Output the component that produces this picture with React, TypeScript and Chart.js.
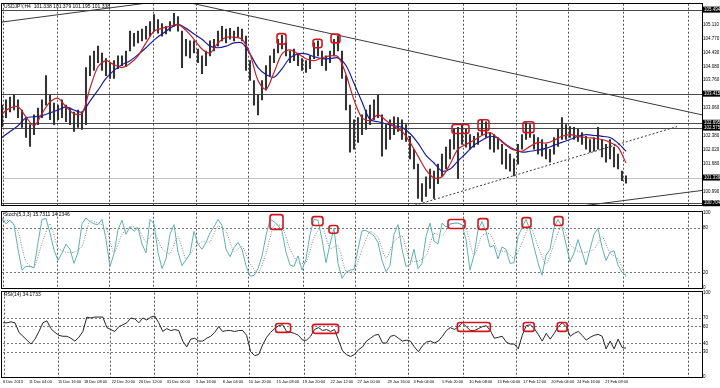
import React, { useEffect, useRef } from "react";
import { Chart, registerables } from "chart.js";
Chart.register(...registerables);

// ---------------- DATA ----------------
const HIGH = [
  103.13,103.26,103.33,103.38,103.26,103.01,102.82,102.65,102.89,103.06,
  103.26,103.86,103.38,103.18,103.13,103.26,103.13,103.06,102.96,103.01,
  102.96,104.06,104.35,104.47,104.59,104.42,104.28,104.18,104.23,104.35,
  104.35,104.47,104.96,104.91,104.96,105.01,105.08,105.20,105.37,105.25,
  105.15,105.08,105.20,105.40,105.32,104.96,104.76,104.72,104.72,104.52,
  104.35,104.47,104.72,104.76,104.96,105.08,105.01,105.03,104.96,105.06,
  105.01,104.84,104.23,103.74,103.38,103.74,104.11,104.35,104.52,104.76,
  104.86,104.67,104.47,104.52,104.42,104.28,104.23,104.35,104.67,104.72,
  104.47,104.35,104.47,104.76,104.84,104.47,103.86,103.13,102.77,102.82,
  102.89,103.01,103.13,103.26,103.38,102.89,102.65,102.77,102.84,102.82,
  102.77,102.65,102.36,102.04,101.67,101.19,101.36,101.55,101.50,101.67,
  101.92,102.09,102.28,102.53,102.58,102.65,102.53,102.40,102.36,102.45,
  102.77,102.72,102.45,102.40,102.33,102.16,102.04,101.92,101.80,102.16,
  102.40,102.70,102.65,102.40,102.33,102.28,102.16,102.04,102.33,102.53,
  102.82,102.65,102.60,102.58,102.53,102.45,102.36,102.28,102.33,102.58,
  102.28,102.16,102.28,102.09,101.92,101.50,101.38
];
const LOW = [
  102.60,102.82,102.96,103.01,102.82,102.58,102.33,102.11,102.40,102.65,
  102.82,103.13,102.77,102.65,102.77,102.82,102.72,102.65,102.48,102.58,
  102.53,102.65,103.86,103.99,104.18,103.99,103.86,103.79,103.79,104.03,
  104.11,104.08,104.47,104.59,104.67,104.72,104.76,104.84,104.96,104.91,
  104.84,104.89,104.96,105.08,104.96,104.06,104.35,104.30,104.42,104.18,
  103.91,104.11,104.35,104.47,104.59,104.72,104.67,104.76,104.72,104.81,
  104.72,103.99,103.74,103.13,102.89,103.26,103.50,103.86,104.18,104.42,
  104.52,104.35,104.18,104.23,104.11,103.99,103.94,104.03,104.28,104.35,
  104.11,103.99,104.18,104.35,104.47,103.79,103.01,101.97,102.04,102.21,
  102.40,102.53,102.65,102.77,102.82,101.87,102.04,102.28,102.40,102.48,
  102.28,102.23,101.80,101.55,100.82,100.75,100.87,101.07,100.82,101.19,
  101.36,101.55,101.80,102.04,101.31,102.16,102.09,102.04,102.09,102.16,
  102.40,102.33,102.04,101.97,102.04,101.67,101.55,101.50,101.38,101.67,
  102.04,102.28,102.33,102.04,101.92,101.87,101.80,101.72,101.92,102.11,
  102.28,102.28,102.33,102.28,102.23,102.16,102.04,101.97,101.99,102.04,
  101.85,101.72,101.80,101.60,101.55,101.26,101.20
];
// moving averages, one value every 2 bars
const MA_FAST = [
  102.92,103.06,103.09,102.84,102.62,102.92,103.21,103.30,103.09,102.92,
  102.92,103.55,104.08,104.23,104.13,104.06,104.16,104.35,104.67,104.96,
  105.03,105.08,105.13,104.98,104.76,104.52,104.42,104.67,104.81,104.81,
  104.76,104.40,103.74,103.52,103.94,104.40,104.50,104.40,104.28,104.23,
  104.30,104.35,104.33,103.89,103.26,102.82,102.75,102.89,102.75,102.60,
  102.48,102.21,101.87,101.53,101.33,101.36,101.67,102.04,102.16,102.26,
  102.38,102.45,102.31,102.14,102.02,101.99,102.11,102.21,102.19,102.26,
  102.36,102.40,102.36,102.33,102.31,102.28,102.21,102.09,101.70
];
const MA_SLOW = [
  102.33,102.48,102.62,102.82,102.84,102.87,102.94,103.01,103.09,103.01,
  102.96,103.23,103.50,103.79,103.99,104.13,104.23,104.38,104.55,104.74,
  104.89,105.03,105.13,105.03,104.89,104.76,104.59,104.55,104.59,104.67,
  104.67,104.40,104.06,103.89,103.82,104.03,104.30,104.40,104.40,104.33,
  104.28,104.28,104.30,104.11,103.67,103.21,102.77,102.72,102.67,102.62,
  102.58,102.43,102.19,101.89,101.70,101.50,101.55,101.75,101.94,102.14,
  102.26,102.36,102.31,102.16,102.04,101.97,101.99,102.02,102.06,102.14,
  102.21,102.28,102.36,102.40,102.38,102.36,102.33,102.19,101.99
];
const STOCH_MAIN = [
  93,85,90,84,51,23,28,28,26,60,
  91,92,73,50,36,46,58,51,32,47,
  85,93,88,85,84,91,64,28,45,77,
  90,71,81,75,80,58,46,91,85,47,
  25,38,71,84,47,29,37,45,75,58,
  51,60,73,81,91,83,51,41,53,60,
  51,29,15,16,25,42,69,91,88,83,
  75,47,30,28,42,23,38,71,91,90,
  64,33,58,79,32,12,20,23,24,51,
  76,76,73,69,60,36,21,29,71,84,
  51,28,30,51,25,32,68,86,62,58,
  86,81,85,86,86,84,64,23,43,77,
  88,75,54,56,38,54,51,32,33,68,
  80,91,77,54,33,16,43,51,80,91,
  81,58,34,46,64,47,30,51,71,79,
  54,36,47,49,30,20,15.7
];
// signal line, one value every 2 bars
const STOCH_SIGNAL = [
  90,89,75,34,27,59,85,53,47,47,
  55,89,86,80,46,71,81,79,61,74,
  52,45,68,38,52,61,61,82,75,48,
  55,32,19,45,83,82,51,33,33,67,
  82,52,56,21,22,50,75,67,39,61,
  69,36,35,42,72,69,84,86,78,43,
  69,72,49,48,39,60,83,55,31,58,
  84,58,48,47,51,68,46,38,14.2
];
const RSI = [
  64.3,64.3,65.4,64.3,52.9,48.3,43.7,39.1,44.9,54.0,
  64.3,66.6,57.4,52.9,49.4,48.3,48.3,46.0,42.6,47.1,
  54.0,71.1,70.0,71.1,71.1,71.1,58.6,56.3,54.0,59.7,
  62.0,64.3,70.0,68.9,64.3,70.0,67.7,71.1,72.3,64.3,
  54.0,57.4,55.1,56.3,55.1,42.6,35.7,44.9,46.0,42.6,
  42.6,46.0,48.3,52.9,59.7,54.0,55.1,55.1,54.0,55.1,
  55.1,49.4,30.0,25.4,26.6,38.0,47.1,52.9,57.4,60.9,
  62.0,54.0,52.9,51.7,49.4,43.7,43.7,48.3,56.3,58.6,
  55.1,56.3,54.0,56.3,43.7,31.1,26.6,24.3,26.6,32.3,
  35.7,42.6,46.0,49.4,50.6,40.3,40.3,48.3,49.4,46.0,
  42.6,43.7,42.6,35.7,30.0,36.9,41.4,42.6,40.3,42.6,
  48.3,55.1,58.6,56.3,59.7,64.3,59.7,55.1,55.1,57.4,
  59.7,60.9,55.1,46.0,47.1,48.3,41.4,39.1,39.1,33.4,
  49.4,60.9,62.0,57.4,50.6,42.6,51.7,44.9,51.7,59.7,
  64.3,59.7,48.3,51.7,54.0,49.4,43.7,47.1,49.4,50.6,
  48.3,33.4,42.6,33.4,44.9,35.0,34.2
];

const PRICE_TICKS = [105.11, 104.77, 104.43, 104.08, 103.76, 103.06, 102.38, 102.02, 101.68, 100.99];
const PRICE_LEVELS = [105.494, 103.415, 102.695, 102.575, 100.704];
const BID = 101.339;
const STOCH_TICKS = [100, 80, 20, 0];
const STOCH_LEVELS = [80, 20];
const RSI_TICKS = [100, 70, 60, 40, 30, 0];
const RSI_LEVELS = [70, 60, 40, 30];

const X_LABELS = [
  "6 Dec 2013", "11 Dec 04:00", "15 Dec 16:00", "18 Dec 08:00", "22 Dec 20:00", "26 Dec 12:00",
  "31 Dec 00:00", "3 Jan 16:00", "8 Jan 04:00", "10 Jan 20:00", "15 Jan 08:00", "19 Jan 20:00",
  "22 Jan 12:00", "27 Jan 00:00", "29 Jan 16:00", "3 Feb 04:00", "5 Feb 20:00", "10 Feb 08:00",
  "13 Feb 00:00", "17 Feb 12:00", "20 Feb 04:00", "24 Feb 16:00", "27 Feb 08:00"
];
const X_LABEL_POS = [0, 6.5, 13.75, 20.25, 27.25, 34, 41, 48.25, 55, 61.5, 68.5, 75, 82, 88.75, 96.25, 102.75, 110, 116.75, 123.75, 130.25, 137.25, 143.75, 150.75];
const WEEK_LINES = [0.25, 13.75, 26.75, 37.75, 48.5, 61.5, 75.25, 88.25, 101.5, 115.25, 128.5, 141.5, 155.25, 171.5];

// trend lines: [x0, price0, x1, price1, dashed]
const TREND_LINES: [number, number, number, number, boolean][] = [
  [-0.5, 105.18, 45, 105.77, false],
  [45.75, 105.689, 175, 102.89, false],
  [103.25, 100.652, 168.75, 102.6, true],
  [144.5, 100.63, 175, 101.02, false],
];
// highlight boxes: [x0, x1, v0, v1]
const PRICE_BOXES = [
  [68.75, 71, 104.9, 104.64], [77.75, 80, 104.76, 104.55], [82.25, 84.5, 104.89, 104.67],
  [112.5, 116.75, 102.65, 102.43], [119, 121.75, 102.77, 102.5], [130.25, 133, 102.72, 102.45],
];
const STOCH_BOXES = [
  [67, 70.25, 97.4, 77.6], [77.5, 80.25, 94.7, 82.9], [81.75, 84, 82.9, 72.4],
  [111.5, 115.75, 90.8, 78.9], [119, 121.5, 92.1, 77.6], [130, 132.25, 93.4, 80.3], [138, 140.25, 94.7, 82.9],
];
const RSI_BOXES = [
  [68.25, 72, 63.5, 52.9], [77.5, 84, 62.4, 51.8], [113.75, 122, 64.7, 54.1],
  [130.25, 133, 64.7, 54.1], [138.75, 141.25, 64.7, 54.1],
];

// ---------------- HELPERS ----------------
const FONT = "'Liberation Sans', Arial, sans-serif";
const X_MIN = 0;
const X_MAX = 175;
const AXIS_W = 18;

const px = (c: any, v: number) => c.scales.x.getPixelForValue(v);
const py = (c: any, v: number) => c.scales.y.getPixelForValue(v);

function hiddenX() {
  return { type: "linear", min: X_MIN, max: X_MAX, display: false, offset: false, bounds: "data" };
}

function rightAxis(min: number, max: number, ticks: number[], dec: number) {
  return {
    type: "linear",
    position: "right",
    min,
    max,
    bounds: "data",
    offset: false,
    beginAtZero: false,
    grid: { display: false, drawTicks: false },
    border: { display: false },
    ticks: {
      autoSkip: false,
      padding: 1,
      color: "#000",
      font: { size: 4.5, family: FONT },
      callback: (v: any) => Number(v).toFixed(dec),
    },
    afterBuildTicks: (s: any) => {
      s.ticks = ticks.map((v) => ({ value: v }));
    },
    afterFit: (s: any) => {
      s.width = AXIS_W;
    },
  };
}

function drawWeekGrid(c: any) {
  const { ctx, chartArea: a } = c;
  ctx.save();
  ctx.strokeStyle = "#555";
  ctx.lineWidth = 1;
  ctx.setLineDash([2, 2]);
  WEEK_LINES.forEach((w) => {
    const x = Math.round(px(c, w)) + 0.5;
    ctx.beginPath();
    ctx.moveTo(x, a.top);
    ctx.lineTo(x, a.bottom);
    ctx.stroke();
  });
  ctx.restore();
}

function drawLevels(c: any, levels: number[], dashed: boolean, color: string) {
  const { ctx, chartArea: a } = c;
  ctx.save();
  ctx.strokeStyle = color;
  ctx.lineWidth = 1;
  ctx.setLineDash(dashed ? [2, 2] : []);
  levels.forEach((v) => {
    const y = Math.round(py(c, v)) + 0.5;
    ctx.beginPath();
    ctx.moveTo(a.left, y);
    ctx.lineTo(a.right, y);
    ctx.stroke();
  });
  ctx.restore();
}

function drawBoxes(c: any, boxes: number[][]) {
  const { ctx } = c;
  ctx.save();
  ctx.strokeStyle = "#d3141c";
  ctx.lineWidth = 1.6;
  boxes.forEach(([x0, x1, v0, v1]) => {
    const l = px(c, x0);
    const r = px(c, x1);
    const t = Math.min(py(c, v0), py(c, v1));
    const b = Math.max(py(c, v0), py(c, v1));
    ctx.beginPath();
    (ctx as any).roundRect(l, t, r - l, b - t, 2.5);
    ctx.stroke();
  });
  ctx.restore();
}

function drawFrame(c: any, topGap: number) {
  const { ctx, chartArea: a } = c;
  ctx.save();
  ctx.strokeStyle = "#000";
  ctx.lineWidth = 1;
  ctx.strokeRect(1.5, Math.round(a.top - topGap) + 0.5, Math.round(a.right) - 1, Math.round(a.bottom - a.top + topGap));
  ctx.restore();
}

function drawTitle(c: any, text: string, y: number) {
  const { ctx } = c;
  ctx.save();
  ctx.fillStyle = "#000";
  ctx.font = `5px ${FONT}`;
  ctx.textBaseline = "top";
  ctx.fillText(text, 4, y);
  ctx.restore();
}

const common = {
  responsive: false,
  animation: false as const,
  events: [] as any[],
  plugins: { legend: { display: false }, tooltip: { enabled: false } },
};

function mainConfig(): any {
  const plugin = {
    id: "mainDecor",
    beforeDatasetsDraw(c: any) {
      drawWeekGrid(c);
      drawLevels(c, [BID], false, "#c4c4c4");
      drawLevels(c, PRICE_LEVELS, false, "#4a4a4a");
    },
    afterDatasetsDraw(c: any) {
      const { ctx, chartArea: a } = c;
      ctx.save();
      ctx.beginPath();
      ctx.rect(a.left, a.top, a.right - a.left, a.bottom - a.top);
      ctx.clip();
      ctx.strokeStyle = "#3a3a3a";
      ctx.lineWidth = 1;
      TREND_LINES.forEach(([x0, v0, x1, v1, d]) => {
        ctx.setLineDash(d ? [2, 2] : []);
        ctx.beginPath();
        ctx.moveTo(px(c, x0), py(c, v0));
        ctx.lineTo(px(c, x1), py(c, v1));
        ctx.stroke();
      });
      ctx.restore();
      drawBoxes(c, PRICE_BOXES);
    },
    afterDraw(c: any) {
      const { ctx } = c;
      drawFrame(c, 0.5);
      drawTitle(c, "USDJPY,H4  101.338 101.379 101.195 101.338", 4);
      ctx.save();
      ctx.font = `4.5px ${FONT}`;
      ctx.textBaseline = "middle";
      [...PRICE_LEVELS, BID].forEach((v) => {
        const y = py(c, v);
        ctx.fillStyle = "#000";
        ctx.fillRect(c.chartArea.right + 1, y - 3, AXIS_W - 1, 6);
        ctx.fillStyle = "#fff";
        ctx.fillText(v.toFixed(3), c.chartArea.right + 2, y);
      });
      ctx.restore();
    },
  };
  return {
    type: "line",
    data: {
      datasets: [
        {
          type: "bar",
          data: HIGH.map((h, i) => ({ x: i, y: [LOW[i], h] })),
          backgroundColor: "#333",
          borderWidth: 0,
          barThickness: 1.4,
          order: 3,
        },
        {
          data: MA_SLOW.map((v, k) => ({ x: k * 2, y: v })),
          borderColor: "#1c1c9a",
          borderWidth: 1.2,
          pointRadius: 0,
          tension: 0.3,
          order: 2,
        },
        {
          data: MA_FAST.map((v, k) => ({ x: k * 2, y: v })),
          borderColor: "#c3202a",
          borderWidth: 1.2,
          pointRadius: 0,
          tension: 0.3,
          order: 1,
        },
      ],
    },
    options: {
      ...common,
      layout: { padding: { left: 2, top: 2, bottom: 2, right: 0 } },
      scales: { x: hiddenX(), y: rightAxis(100.6526, 105.6403, PRICE_TICKS, 3) },
    },
    plugins: [plugin],
  };
}

function stochConfig(): any {
  const plugin = {
    id: "stochDecor",
    beforeDatasetsDraw(c: any) {
      drawWeekGrid(c);
      drawLevels(c, STOCH_LEVELS, true, "#777");
    },
    afterDatasetsDraw(c: any) {
      drawBoxes(c, STOCH_BOXES);
    },
    afterDraw(c: any) {
      drawFrame(c, 2);
      drawTitle(c, "Stoch(5,3,3) 15.7311 14.2346", 3);
    },
  };
  return {
    type: "line",
    data: {
      datasets: [
        {
          data: STOCH_SIGNAL.map((v, k) => ({ x: k * 2, y: v })),
          borderColor: "#8c8c8c",
          borderDash: [1, 1.5],
          borderWidth: 1,
          pointRadius: 0,
          tension: 0.2,
          order: 2,
        },
        {
          data: STOCH_MAIN.map((v, i) => ({ x: i, y: v })),
          borderColor: "#5fb2ac",
          borderWidth: 1,
          pointRadius: 0,
          order: 1,
        },
      ],
    },
    options: {
      ...common,
      layout: { padding: { left: 2, top: 3, bottom: 3, right: 0 } },
      scales: { x: hiddenX(), y: rightAxis(0, 100, STOCH_TICKS, 0) },
    },
    plugins: [plugin],
  };
}

function rsiConfig(): any {
  const plugin = {
    id: "rsiDecor",
    beforeDatasetsDraw(c: any) {
      drawWeekGrid(c);
      drawLevels(c, RSI_LEVELS, true, "#777");
    },
    afterDatasetsDraw(c: any) {
      drawBoxes(c, RSI_BOXES);
    },
    afterDraw(c: any) {
      drawFrame(c, 2);
      drawTitle(c, "RSI(14) 34.1733", 3);
    },
  };
  return {
    type: "line",
    data: {
      datasets: [
        {
          data: RSI.map((v, i) => ({ x: i, y: v })),
          borderColor: "#262626",
          borderWidth: 1,
          pointRadius: 0,
        },
      ],
    },
    options: {
      ...common,
      layout: { padding: { left: 2, top: 3, bottom: 0, right: 0 } },
      scales: {
        x: {
          type: "linear",
          min: X_MIN,
          max: X_MAX,
          bounds: "data",
          offset: false,
          position: "bottom",
          grid: { display: false, drawTicks: false },
          border: { display: false },
          ticks: {
            autoSkip: false,
            maxRotation: 0,
            minRotation: 0,
            align: "start",
            padding: 3,
            color: "#000",
            font: { size: 3.9, family: FONT },
            callback: (_v: any, i: number) => X_LABELS[i] ?? "",
          },
          afterBuildTicks: (s: any) => {
            s.ticks = X_LABEL_POS.map((v) => ({ value: v }));
          },
          afterFit: (s: any) => {
            s.height = 11;
          },
        },
        y: rightAxis(0, 100, RSI_TICKS, 0),
      },
    },
    plugins: [plugin],
  };
}

export default function App() {
  const mainRef = useRef<HTMLCanvasElement>(null);
  const stochRef = useRef<HTMLCanvasElement>(null);
  const rsiRef = useRef<HTMLCanvasElement>(null);

  useEffect(() => {
    const charts = [
      new Chart(mainRef.current as HTMLCanvasElement, mainConfig()),
      new Chart(stochRef.current as HTMLCanvasElement, stochConfig()),
      new Chart(rsiRef.current as HTMLCanvasElement, rsiConfig()),
    ];
    return () => charts.forEach((c) => c.destroy());
  }, []);

  return (
    <div style={{ position: "fixed", left: 0, top: 0, width: 720, height: 388, background: "#fff", overflow: "hidden" }}>
      <canvas ref={mainRef} width={720} height={209} style={{ position: "absolute", left: 0, top: 0 }} />
      <canvas ref={stochRef} width={720} height={82} style={{ position: "absolute", left: 0, top: 209 }} />
      <canvas ref={rsiRef} width={720} height={99} style={{ position: "absolute", left: 0, top: 289 }} />
    </div>
  );
}
